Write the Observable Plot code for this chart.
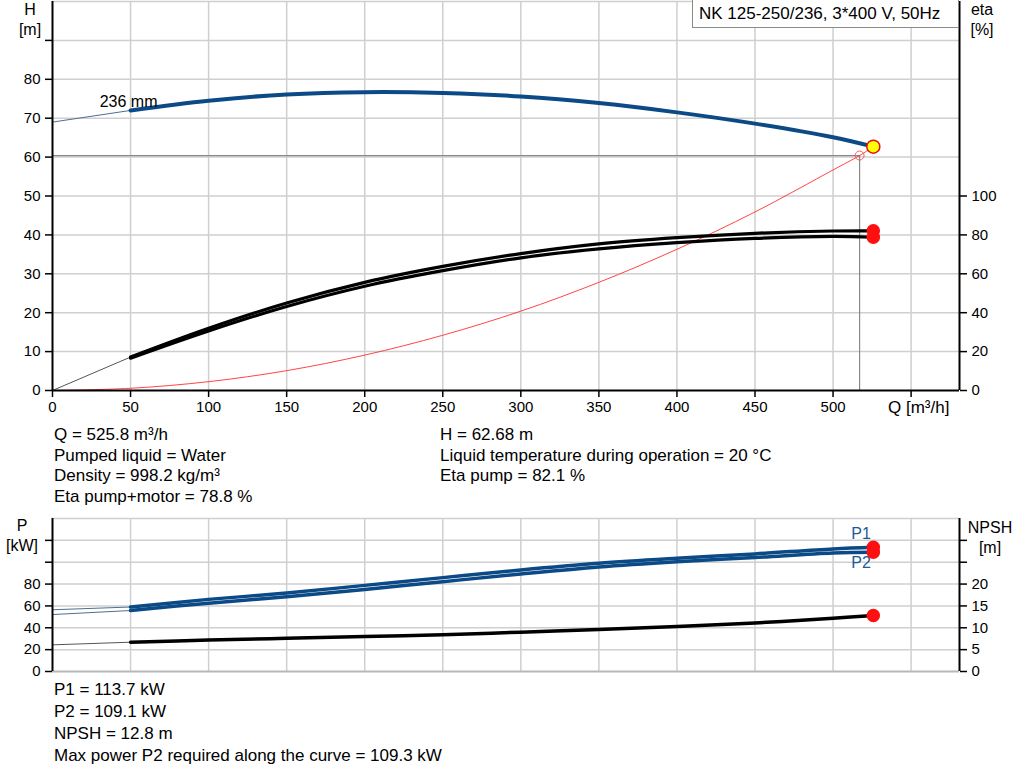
<!DOCTYPE html>
<html>
<head>
<meta charset="utf-8">
<script src="https://cdn.jsdelivr.net/npm/d3@7"></script>
<script src="https://cdn.jsdelivr.net/npm/@observablehq/plot@0.6"></script>
<style>
  body { margin: 0; background: #fff; font-family: "Liberation Sans", Arial, sans-serif; }
  #wrap { position: relative; width: 1024px; height: 781px; overflow: hidden; }
  .abs { position: absolute; white-space: nowrap; font-size: 17px; color: #000; line-height: 1; }
  .lbl { position: absolute; font-size: 16px; text-align: center; line-height: 20px; }
  svg { position: absolute; left: 0; }
</style>
</head>
<body>
<div id="wrap"></div>
<script>
// ---------- data ----------
const Q        = [0, 50, 100, 150, 200, 250, 300, 350, 400, 450, 500, 525.8];
const H        = [69.0, 72.0, 74.5, 76.1, 76.7, 76.5, 75.6, 73.9, 71.5, 68.6, 65.1, 62.68];
const etaPump  = [0, 17.2, 32.0, 45.0, 55.6, 63.8, 70.4, 75.4, 78.6, 80.8, 82.0, 82.1];
const etaTotal = [0, 16.6, 30.6, 43.2, 53.6, 61.6, 68.2, 72.8, 76.0, 78.2, 79.2, 78.8];
const P1       = [56.5, 59.0, 66.0, 71.8, 78.8, 85.9, 92.9, 99.0, 103.6, 107.6, 112.2, 113.7];
const P2       = [52.1, 55.8, 62.5, 68.3, 75.1, 82.2, 89.2, 95.6, 100.4, 104.3, 108.5, 109.1];
const NPSH     = [6.1, 6.7, 7.2, 7.6, 8.0, 8.4, 9.0, 9.6, 10.3, 11.1, 12.2, 12.8];
const sysQ     = [0, 50, 100, 150, 200, 250, 300, 350, 400, 450, 500, 517, 525.8];
const sysH     = [0, 0.57, 2.27, 5.1, 9.1, 14.2, 20.4, 27.8, 36.3, 45.9, 56.7, 60.4, 62.68];
const reqQ = 517, reqH = 60.4;        // requested duty point (guide lines)
const dutyQ = 525.8, dutyH = 62.68;   // actual duty point
const qTicks   = [0, 50, 100, 150, 200, 250, 300, 350, 400, 450, 500, 550];
const hTicks   = [0, 10, 20, 30, 40, 50, 60, 70, 80, 90];
const etaTicks = [0, 20, 40, 60, 80, 100];
const pTicks   = [0, 20, 40, 60, 80, 100, 120];
const npshTicks = [0, 5, 10, 15, 20, 25, 30];

const title = "NK 125-250/236, 3*400 V, 50Hz";
const infoLeft  = ["Q = 525.8 m³/h", "Pumped liquid = Water", "Density = 998.2 kg/m³", "Eta pump+motor = 78.8 %"];
const infoRight = ["H = 62.68 m", "Liquid temperature during operation = 20 °C", "Eta pump = 82.1 %"];
const infoBottom = ["P1 = 113.7 kW", "P2 = 109.1 kW", "NPSH = 12.8 m", "Max power P2 required along the curve = 109.3 kW"];

// ---------- helpers ----------
const pts = (xs, ys, f = v => v) => xs.map((x, i) => ({x, y: f(ys[i])}));
const thick = (xs, ys, f) => pts(xs, ys, f).slice(1);
const thin = (xs, ys, f) => pts(xs, ys, f).slice(0, 2);
const BLUE = "#0b4a86";
const GRID = "#cfcfcf";
const FONT = "'Liberation Sans', Arial, sans-serif";
const wrap = document.getElementById("wrap");

// ---------- top chart ----------
const topChart = Plot.plot({
  width: 1024, height: 420,
  marginLeft: 52, marginRight: 65, marginTop: 1, marginBottom: 30,
  x: {domain: [0, 581]},
  y: {domain: [0, 100]},
  style: {fontSize: "15px", fontFamily: FONT, color: "#000", background: "transparent", overflow: "visible"},
  marks: [
    Plot.ruleX(qTicks.filter(d => d > 0), {stroke: GRID, strokeWidth: 1.5}),
    Plot.ruleY(d3.range(10, 101, 10), {stroke: GRID, strokeWidth: 1.5}),
    Plot.ruleY([reqH], {x1: 0, x2: reqQ, stroke: "#888", strokeWidth: 1.2}),
    Plot.ruleX([reqQ], {y1: 0, y2: reqH, stroke: "#888", strokeWidth: 1.2}),
    Plot.line(pts(sysQ, sysH), {x: "x", y: "y", stroke: "#ff3030", strokeWidth: 0.9, curve: "catmull-rom"}),
    Plot.line(thin(Q, etaPump, v => v / 2), {x: "x", y: "y", stroke: "#555", strokeWidth: 1}),
    Plot.line(thick(Q, etaPump, v => v / 2), {x: "x", y: "y", stroke: "#000", strokeWidth: 3.2, curve: "catmull-rom"}),
    Plot.line(thick(Q, etaTotal, v => v / 2), {x: "x", y: "y", stroke: "#000", strokeWidth: 3.2, curve: "catmull-rom"}),
    Plot.line(thin(Q, H), {x: "x", y: "y", stroke: "#4f6f92", strokeWidth: 1}),
    Plot.line(thick(Q, H), {x: "x", y: "y", stroke: BLUE, strokeWidth: 4, curve: "catmull-rom"}),
    Plot.text([{x: Q[1], y: H[1]}], {x: "x", y: "y", text: () => "236 mm", dx: -2, dy: -9, fontSize: 16, fill: "#000"}),
    Plot.dot([{x: reqQ, y: reqH}], {x: "x", y: "y", r: 4.5, stroke: "#f06060", strokeWidth: 1, fill: "none"}),
    Plot.dot([{x: dutyQ, y: etaPump[11] / 2}, {x: dutyQ, y: etaTotal[11] / 2}], {x: "x", y: "y", r: 6, fill: "#ff1010", stroke: "#ff1010"}),
    Plot.dot([{x: dutyQ, y: dutyH}], {x: "x", y: "y", r: 6.5, fill: "#ffff00", stroke: "#e01010", strokeWidth: 1.5}),
    Plot.ruleX([0], {stroke: "#000", strokeWidth: 2}),
    Plot.ruleX([581], {stroke: "#000", strokeWidth: 2}),
    Plot.ruleY([0], {stroke: "#000", strokeWidth: 2}),
    Plot.axisY({ticks: hTicks, tickFormat: d => d < 90 ? d : "", tickSize: 7, tickPadding: 5, label: null, strokeWidth: 1.5}),
    Plot.axisY({anchor: "right", ticks: etaTicks.map(d => d / 2), tickFormat: d => d * 2, tickSize: 7, tickPadding: 5, label: null, strokeWidth: 1.5}),
    Plot.axisX({ticks: qTicks, tickFormat: d => d < 550 ? d : "", tickSize: 7, tickPadding: 4, label: null, strokeWidth: 1.5})
  ]
});
topChart.style.top = "0px";
wrap.appendChild(topChart);

// ---------- bottom chart ----------
const bottomChart = Plot.plot({
  width: 1024, height: 180,
  marginLeft: 52, marginRight: 65, marginTop: 8, marginBottom: 19,
  x: {domain: [0, 581], axis: null},
  y: {domain: [0, 140]},
  style: {fontSize: "15px", fontFamily: FONT, color: "#000", background: "transparent", overflow: "visible"},
  marks: [
    Plot.ruleX(qTicks.filter(d => d > 0), {stroke: GRID, strokeWidth: 1.5}),
    Plot.ruleY(d3.range(20, 141, 20), {stroke: GRID, strokeWidth: 1.5}),
    Plot.ruleY([0], {stroke: "#b8b8b8", strokeWidth: 2}),
    Plot.line(thin(Q, NPSH, v => v * 4), {x: "x", y: "y", stroke: "#555", strokeWidth: 1}),
    Plot.line(thick(Q, NPSH, v => v * 4), {x: "x", y: "y", stroke: "#000", strokeWidth: 3.5, curve: "catmull-rom"}),
    Plot.line(thin(Q, P1), {x: "x", y: "y", stroke: "#4f6f92", strokeWidth: 1}),
    Plot.line(thin(Q, P2), {x: "x", y: "y", stroke: "#4f6f92", strokeWidth: 1}),
    Plot.line(thick(Q, P1), {x: "x", y: "y", stroke: BLUE, strokeWidth: 3.5, curve: "catmull-rom"}),
    Plot.line(thick(Q, P2), {x: "x", y: "y", stroke: BLUE, strokeWidth: 3.5, curve: "catmull-rom"}),
    Plot.text([{x: 500, y: P1[11], t: "P1"}], {x: "x", y: "y", text: "t", dx: 28, dy: -13, fill: "#1b5a99", fontSize: 16}),
    Plot.text([{x: 500, y: P2[11], t: "P2"}], {x: "x", y: "y", text: "t", dx: 28, dy: 11, fill: "#1b5a99", fontSize: 16}),
    Plot.dot([{x: dutyQ, y: P1[11]}, {x: dutyQ, y: P2[11]}, {x: dutyQ, y: NPSH[11] * 4}], {x: "x", y: "y", r: 6, fill: "#ff1010", stroke: "#ff1010"}),
    Plot.ruleX([0], {stroke: "#000", strokeWidth: 2}),
    Plot.ruleX([581], {stroke: "#000", strokeWidth: 2}),
    Plot.axisY({ticks: pTicks, tickFormat: d => d < 100 ? d : "", tickSize: 7, tickPadding: 5, label: null, strokeWidth: 1.5}),
    Plot.axisY({anchor: "right", ticks: npshTicks.map(d => d * 4), tickFormat: d => d / 4 < 25 ? d / 4 : "", tickSize: 7, tickPadding: 5, label: null, strokeWidth: 1.5})
  ]
});
bottomChart.style.top = "510px";
wrap.appendChild(bottomChart);

// ---------- html text ----------
function add(cls, text, left, topPx, extra = {}) {
  const d = document.createElement("div");
  d.className = cls;
  d.innerHTML = text;
  d.style.left = left + "px";
  d.style.top = topPx + "px";
  Object.assign(d.style, extra);
  wrap.appendChild(d);
  return d;
}
add("lbl", "H<br>[m]", 12, 0, {width: "36px"});
add("lbl", "eta<br>[%]", 962, 0, {width: "40px"});
add("lbl", "P<br>[kW]", 2, 516, {width: "40px"});
add("lbl", "NPSH<br>[m]", 964, 518, {width: "52px"});
add("abs", "Q [m³/h]", 888, 399);
add("abs", title, 692, 0, {border: "1px solid #8a8a8a", borderTop: "none", background: "#fff", padding: "5px 20px 5px 6px", width: "239px"});
infoLeft.forEach((t, i) => add("abs", t, 54, 426 + i * 20.7));
infoRight.forEach((t, i) => add("abs", t, 440, 426 + i * 20.7));
infoBottom.forEach((t, i) => add("abs", t, 54, 681 + i * 22));
</script>
</body>
</html>
